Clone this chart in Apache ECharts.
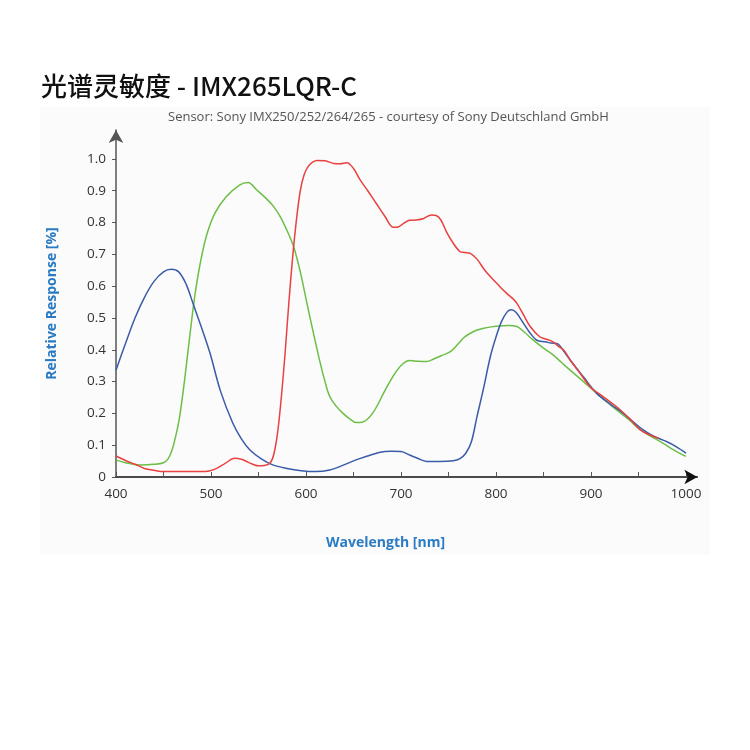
<!DOCTYPE html>
<html><head><meta charset="utf-8">
<script src="https://cdn.jsdelivr.net/npm/echarts@6/dist/echarts.min.js"></script>
<style>html,body{margin:0;padding:0;background:#fff}#c{width:750px;height:750px}</style>
</head><body><div id="c"></div>
<script>
const titleText = '光谱灵敏度 - IMX265LQR-C';
const subtitleText = 'Sensor: Sony IMX250/252/264/265 - courtesy of Sony Deutschland GmbH';
const xName = 'Wavelength [nm]';
const yName = 'Relative Response [%]';
const yTicks = [0,0.1,0.2,0.3,0.4,0.5,0.6,0.7,0.8,0.9,1.0];
const xTicks = [400,450,500,550,600,650,700,750,800,850,900,950,1000];
const xLabels = [400,500,600,700,800,900,1000];

const blueWl  = [400,410,420,430,440,450,458,466,474,481,490,499,510,523,532,541,553,565,580,595,610,625,640,652,665,678,690,700,709,718,727,740,755,762,768,774,780,787,794,800,806,812,816,821,829,836,843,852,858,864,871,878,892,906,920,934,945,955,966,980,990,1000];
const blueVal = [0.336,0.42,0.50,0.565,0.615,0.645,0.653,0.645,0.605,0.546,0.47,0.389,0.27,0.169,0.12,0.085,0.057,0.038,0.027,0.02,0.017,0.022,0.038,0.053,0.066,0.078,0.081,0.08,0.069,0.058,0.049,0.049,0.051,0.058,0.074,0.11,0.19,0.28,0.378,0.44,0.49,0.52,0.526,0.518,0.483,0.452,0.43,0.425,0.421,0.42,0.397,0.368,0.315,0.263,0.23,0.2,0.172,0.148,0.128,0.111,0.095,0.075];

const redWl  = [400,410,420,430,440,450,460,470,480,490,498,506,515,525,532,538,544,550,556,562,566,570,574,578,582,586,590,594,598,602,607,612,620,629,636,643,650,657,665,674,683,692,697,702,709,716,724,732,737,742,748,755,762,767,773,780,787,794,802,811,818,822,829,836,846,853,860,866,871,880,890,899,913,927,940,952,962,971];
const redVal = [0.066,0.052,0.04,0.027,0.021,0.017,0.017,0.017,0.017,0.017,0.019,0.027,0.043,0.059,0.056,0.048,0.04,0.035,0.036,0.043,0.07,0.137,0.25,0.39,0.55,0.693,0.81,0.9,0.95,0.975,0.99,0.995,0.994,0.986,0.985,0.988,0.97,0.934,0.9,0.86,0.82,0.785,0.786,0.796,0.807,0.808,0.813,0.824,0.822,0.808,0.77,0.735,0.709,0.706,0.703,0.685,0.655,0.63,0.605,0.578,0.56,0.546,0.51,0.473,0.441,0.433,0.425,0.41,0.4,0.36,0.32,0.284,0.252,0.221,0.185,0.148,0.132,0.122];

const greenWl  = [400,410,425,440,450,455,459,463,467,472,478,483,488,495,504,516,530,539,548,558,566,573,580,587,594,601,608,615,620,625,632,639,646,653,659,664,670,676,681,688,695,702,709,718,727,735,743,752,760,766,773,780,787,795,804,813,822,830,839,850,860,869,878,892,906,916,927,940,952,964,976,987,997,1000];
const greenVal = [0.053,0.045,0.038,0.04,0.045,0.058,0.085,0.13,0.19,0.3,0.452,0.57,0.661,0.756,0.829,0.881,0.918,0.926,0.903,0.876,0.85,0.818,0.775,0.724,0.645,0.546,0.45,0.358,0.3,0.253,0.222,0.2,0.183,0.171,0.172,0.18,0.2,0.23,0.26,0.298,0.332,0.356,0.366,0.364,0.363,0.372,0.382,0.394,0.418,0.438,0.452,0.462,0.468,0.472,0.475,0.476,0.473,0.455,0.431,0.405,0.384,0.36,0.336,0.3,0.263,0.238,0.211,0.18,0.148,0.126,0.106,0.085,0.069,0.065];

function pairs(xs, ys){ return xs.map((x,i)=>[x, ys[i]]); }

const chart = echarts.init(document.getElementById('c'));
const lbl = {fontFamily:'Open Sans', fontSize:13.5, color:'#333'};
chart.setOption({
  animation:false,
  backgroundColor:'#ffffff',
  graphic:[{type:'rect', z:-10, shape:{x:40,y:107,width:670,height:448}, style:{fill:'#fbfbfb'}}],
  title:[
    {text:titleText, left:36, top:68, textStyle:{fontFamily:'Noto Sans CJK SC', fontSize:26, fontWeight:500, color:'#111'}},
    {text:subtitleText, left:163, top:106, textStyle:{fontFamily:'Open Sans', fontSize:13, fontWeight:'normal', color:'#555'}},
    {text:xName, left:321, top:531, textStyle:{fontFamily:'Open Sans', fontSize:14, fontWeight:'bold', color:'#2a7bc4'}}
  ],
  grid:{left:116, right:52.6, top:130, bottom:273, containLabel:false},
  xAxis:{
    type:'value', min:400, max:1012,
    axisLine:{show:true, lineStyle:{color:'#111', width:1.5}, symbol:['none','arrow'], symbolSize:[11,13]},
    axisTick:{show:true, inside:true, length:5, lineStyle:{color:'#555'}, customValues:xTicks},
    axisLabel:{...lbl, margin:10, customValues:xLabels, formatter:v=>String(v)},
    splitLine:{show:false}
  },
  yAxis:{
    type:'value', min:0, max:1.091,
    name:yName, nameLocation:'middle', nameGap:57, nameRotate:90,
    nameTextStyle:{fontFamily:'Open Sans', fontSize:14, fontWeight:'bold', color:'#2a7bc4'},
    axisLine:{show:true, lineStyle:{color:'#555', width:1.5}, symbol:['none','arrow'], symbolSize:[11,13]},
    axisTick:{show:true, inside:false, length:4, lineStyle:{color:'#555'}, customValues:yTicks},
    axisLabel:{...lbl, margin:10, customValues:yTicks, formatter:v=> v===0?'0':v.toFixed(1)},
    splitLine:{show:false}
  },
  series:[
    {type:'line', data:pairs(greenWl, greenVal), smooth:0.35, showSymbol:false, lineStyle:{color:'#6cbf45', width:1.5}},
    {type:'line', data:pairs(blueWl, blueVal), smooth:0.35, showSymbol:false, lineStyle:{color:'#3a5ba8', width:1.5}},
    {type:'line', data:pairs(redWl, redVal), smooth:0.35, showSymbol:false, lineStyle:{color:'#e8413f', width:1.5}}
  ]
});
</script></body></html>
